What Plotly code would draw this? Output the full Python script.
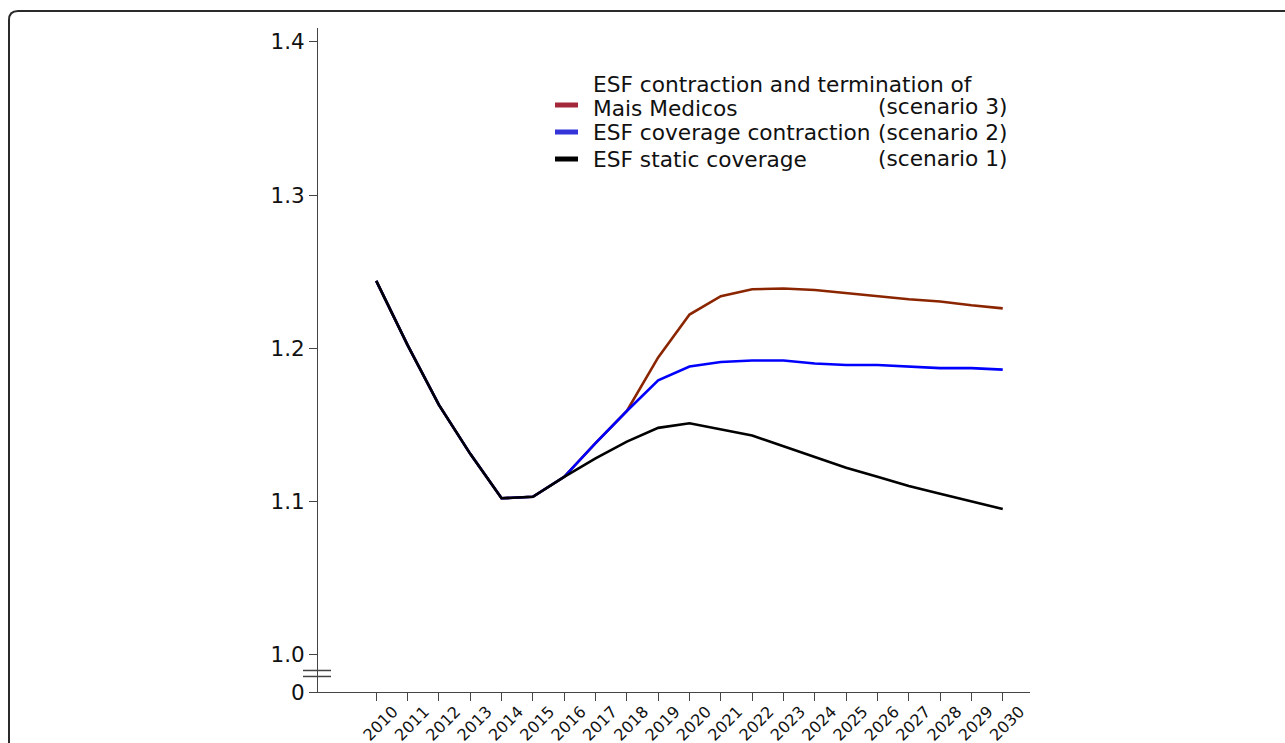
import plotly.graph_objects as go

# ---- data -------------------------------------------------------------
years = list(range(2010, 2031))

# ESF static coverage (scenario 1)
static_coverage = [1.244, 1.202, 1.163, 1.131, 1.102, 1.103, 1.116, 1.128, 1.139,
                   1.148, 1.151, 1.147, 1.143, 1.136, 1.129, 1.122, 1.116, 1.110,
                   1.105, 1.100, 1.095]

# ESF coverage contraction (scenario 2)
coverage_contraction = [1.244, 1.202, 1.163, 1.131, 1.102, 1.103, 1.116, 1.138, 1.159,
                        1.179, 1.188, 1.191, 1.192, 1.192, 1.190, 1.189, 1.189, 1.188,
                        1.187, 1.187, 1.186]

# ESF contraction and termination of Mais Medicos (scenario 3)
mais_medicos_end = [1.244, 1.202, 1.163, 1.131, 1.102, 1.103, 1.116, 1.138, 1.159,
                    1.194, 1.222, 1.234, 1.2385, 1.239, 1.238, 1.236, 1.234, 1.232,
                    1.2305, 1.228, 1.226]

y_tick_values = [1.0, 1.1, 1.2, 1.3, 1.4]
y_tick_labels = ["1.0", "1.1", "1.2", "1.3", "1.4"]
zero_label = "0"

legend_rows = [
    ("Mais Medicos", "(scenario 3)"),
    ("ESF coverage contraction", "(scenario 2)"),
    ("ESF static coverage", "(scenario 1)"),
]
legend_heading = "ESF contraction and termination of"

# ---- layout constants ---------------------------------------------------
W, H = 1285, 743
L, R, T, B = 318, 255, 28, 51
Y_LOW, Y_HIGH = 0.9755, 1.4091   # y-range; the "0" label sits at the bottom edge
X_LOW, X_HIGH = 2008.14, 2030.87
FONT = "DejaVu Sans"
AXIS_COLOR = "#444444"
TEXT_COLOR = "#111111"

line_colors = ["#8b2500", "#0000ff", "#000000"]
swatch_colors = ["#a3283a", "#3434d8", "#000000"]

plot_w = W - L - R
plot_h = H - T - B


def px(x):
    """pixel column -> paper x"""
    return (x - L) / plot_w


def py(y):
    """pixel row -> paper y"""
    return (H - B - y) / plot_h


fig = go.Figure()

series = [mais_medicos_end, coverage_contraction, static_coverage]
for values, color in zip(series, line_colors):
    fig.add_trace(go.Scatter(
        x=years, y=values, mode="lines",
        line=dict(color=color, width=2.6),
        showlegend=False, hoverinfo="x+y",
    ))

shapes = []

# outer rounded frame (runs off the right and bottom of the page)
x0, y0, r = 9, 11, 9
frame_path = (
    f"M {px(x0)} {py(H + 20)} "
    f"L {px(x0)} {py(y0 + r)} "
    f"Q {px(x0)} {py(y0)} {px(x0 + r)} {py(y0)} "
    f"L {px(W + 20)} {py(y0)}"
)
shapes.append(dict(type="path", xref="paper", yref="paper", path=frame_path,
                   line=dict(color="#2a2a2a", width=2)))

# axis-break marks on the y axis
for yb in (0.98955, 0.98564):
    shapes.append(dict(type="line", xref="paper", yref="y",
                       x0=px(303), x1=px(331), y0=yb, y1=yb,
                       line=dict(color=AXIS_COLOR, width=1.5)))

# manual legend swatches
swatch_y = [105, 132, 159]
for color, sy in zip(swatch_colors, swatch_y):
    shapes.append(dict(type="line", xref="paper", yref="paper",
                       x0=px(555), x1=px(578), y0=py(sy), y1=py(sy),
                       line=dict(color=color, width=5)))

annotations = []
legend_font = dict(family=FONT, size=21.7, color=TEXT_COLOR)
annotations.append(dict(xref="paper", yref="paper", x=px(591), y=py(85),
                        text=legend_heading, showarrow=False,
                        xanchor="left", yanchor="middle", font=legend_font))
label_y = [109, 133, 159]
scen_y = [106, 133, 158]
for (label, scen), ly, sy in zip(legend_rows, label_y, scen_y):
    annotations.append(dict(xref="paper", yref="paper", x=px(591), y=py(ly),
                            text=label, showarrow=False,
                            xanchor="left", yanchor="middle", font=legend_font))
    annotations.append(dict(xref="paper", yref="paper", x=px(1009), y=py(sy),
                            text=scen, showarrow=False,
                            xanchor="right", yanchor="middle", font=legend_font))

fig.update_layout(
    width=W, height=H,
    margin=dict(l=L, r=R, t=T, b=B, pad=0, autoexpand=False),
    paper_bgcolor="white", plot_bgcolor="white",
    font=dict(family=FONT, color=TEXT_COLOR),
    shapes=shapes, annotations=annotations,
    showlegend=False,
)

fig.update_xaxes(
    range=[X_LOW, X_HIGH], automargin=False,
    tickvals=years, ticktext=[str(y) for y in years],
    tickangle=-45, tickfont=dict(family=FONT, size=16, color=TEXT_COLOR),
    ticks="outside", ticklen=8, tickcolor=AXIS_COLOR, tickwidth=1,
    ticklabelshift=17, ticklabelstandoff=-5,
    showline=True, linecolor=AXIS_COLOR, linewidth=1,
    showgrid=False, zeroline=False,
)

fig.update_yaxes(
    range=[Y_LOW, Y_HIGH], automargin=False,
    tickvals=[Y_LOW] + y_tick_values, ticktext=[zero_label] + y_tick_labels,
    tickfont=dict(family=FONT, size=21.5, color=TEXT_COLOR),
    ticks="outside", ticklen=8, tickcolor=AXIS_COLOR, tickwidth=1,
    showline=True, linecolor=AXIS_COLOR, linewidth=1,
    showgrid=False, zeroline=False,
)

fig.write_html("out.html")
